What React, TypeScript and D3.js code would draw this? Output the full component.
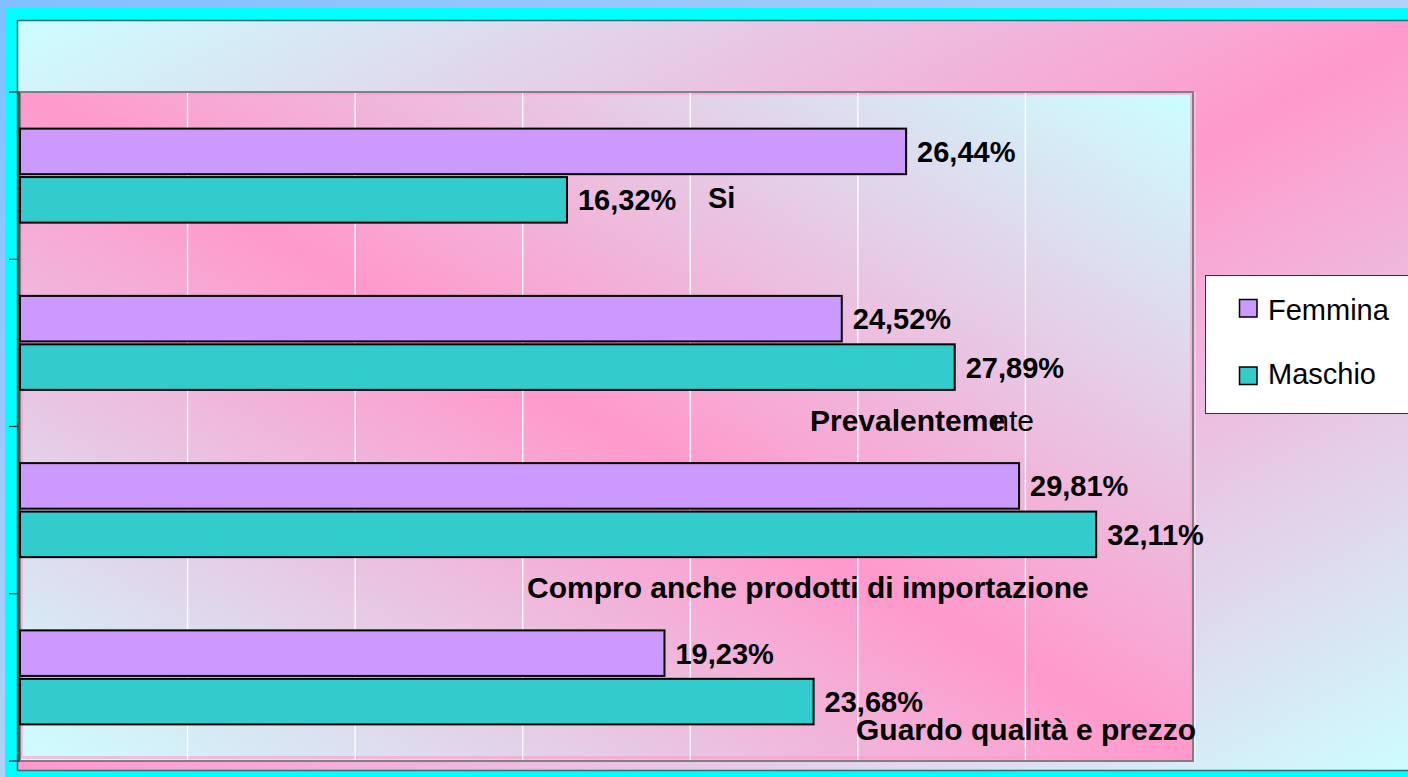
import React from "react";
import * as d3 from "d3";

const categories = ["Si", "Prevalentemente", "Compro anche prodotti di importazione", "Guardo qualità e prezzo"];
const seriesNames = ["Femmina", "Maschio"];
const femmina = [26.44, 24.52, 29.81, 19.23];
const maschio = [16.32, 27.89, 32.11, 23.68];
const xTicks = [0, 5, 10, 15, 20, 25, 30, 35];

const W = 1408;
const H = 777;
const PLOT = { left: 20, right: 1193, top: 92, bottom: 761 };
const FONT = "'Liberation Sans', Arial, sans-serif";
const COLORS: Record<string, string> = { Femmina: "#CC99FF", Maschio: "#33CCCC" };

const fmt = (v: number) => v.toFixed(2).replace(".", ",") + "%";

export default function App() {
  const x = d3.scaleLinear().domain([0, 35]).range([PLOT.left, PLOT.right]);
  const y = d3.scaleBand<string>().domain(categories).range([PLOT.top, PLOT.bottom]).padding(0);
  const values: Record<string, number[]> = { Femmina: femmina, Maschio: maschio };

  const boundaries = categories.map((c) => y(c) as number).concat([PLOT.bottom]);

  return (
    <svg width={W} height={H} style={{ position: "absolute", left: 0, top: 0, display: "block" }} fontFamily={FONT}>
      <defs>
        <linearGradient id="page" x1="0" y1="0" x2="1" y2="1">
          <stop offset="0" stopColor="#80C0FF" />
          <stop offset="1" stopColor="#E8E0F0" />
        </linearGradient>
        <linearGradient id="chartBg" x1="0" y1="0" x2="1" y2="1">
          <stop offset="0" stopColor="#CCFFFF" />
          <stop offset="0.5" stopColor="#FF99CC" />
          <stop offset="1" stopColor="#CCFFFF" />
        </linearGradient>
        <linearGradient id="plotBg" x1="1" y1="0" x2="0" y2="1">
          <stop offset="0" stopColor="#CCFFFF" />
          <stop offset="0.5" stopColor="#FF99CC" />
          <stop offset="1" stopColor="#CCFFFF" />
        </linearGradient>
      </defs>

      <rect x={0} y={0} width={W} height={H} fill="url(#page)" />
      <rect x={5} y={8} width={W} height={H} fill="#00FFFF" />
      <rect x={17.5} y={20.5} width={1420} height={750} fill="url(#chartBg)" stroke="#2F6F6F" strokeWidth={1.5} />

      {/* plot area */}
      <rect x={PLOT.left} y={PLOT.top} width={PLOT.right - PLOT.left} height={PLOT.bottom - PLOT.top} fill="url(#plotBg)" />
      <rect
        x={PLOT.left + 1.5}
        y={PLOT.top + 1.5}
        width={PLOT.right - PLOT.left - 3}
        height={PLOT.bottom - PLOT.top - 5}
        fill="none"
        stroke="#FF99CC"
        strokeOpacity={0.6}
        strokeWidth={3}
      />

      {/* gridlines */}
      {xTicks.slice(1, -1).map((t) => (
        <line key={t} x1={x(t)} x2={x(t)} y1={PLOT.top} y2={PLOT.bottom - 1} stroke="#FFFFFF" strokeOpacity={0.9} strokeWidth={1.5} />
      ))}

      <rect
        x={PLOT.left}
        y={PLOT.top}
        width={PLOT.right - PLOT.left}
        height={PLOT.bottom - PLOT.top}
        fill="none"
        stroke="#808080"
        strokeWidth={2}
      />
      <line x1={PLOT.right + 2} x2={PLOT.right + 2} y1={PLOT.top} y2={PLOT.bottom} stroke="#FFFFFF" strokeOpacity={0.6} strokeWidth={1} />

      {/* left axis */}
      <line x1={18.5} x2={18.5} y1={PLOT.top} y2={PLOT.bottom + 1} stroke="#555555" strokeWidth={3} />
      {boundaries.map((b, i) => (
        <line key={i} x1={9} x2={19} y1={b} y2={b} stroke="#333333" strokeWidth={1.2} />
      ))}

      {/* bars */}
      {categories.map((c, ci) => {
        const c0 = (y(c) as number) + y.bandwidth() / 2;
        const sub = d3.scaleBand<string>().domain(seriesNames).range([c0 - 47, c0 + 47]).paddingInner(0.06);
        return (
          <g key={c}>
            {seriesNames.map((s) => {
              const v = values[s][ci];
              const by = sub(s) as number;
              const bh = sub.bandwidth();
              return (
                <g key={s}>
                  <rect x={x(0)} y={by} width={x(v) - x(0)} height={bh} fill={COLORS[s]} stroke="#000000" strokeWidth={2} />
                  <text x={x(v) + 11} y={by + bh / 2 + 10.5} fontSize={29} fontWeight="bold" fill="#000">
                    {fmt(v)}
                  </text>
                </g>
              );
            })}
          </g>
        );
      })}

      {/* category labels (as placed in the original) */}
      <text x={708} y={208} fontSize={29} fontWeight="bold" fill="#000">
        {categories[0]}
      </text>
      <text x={810} y={431} fontSize={30} fontWeight="normal" fill="#000" textAnchor="end" dx={224}>
        nte
      </text>
      <text x={810} y={431} fontSize={30} fontWeight="bold" fill="#000">
        {categories[1].slice(0, 12)}
      </text>
      <text x={527} y={598} fontSize={30} fontWeight="bold" fill="#000">
        {categories[2]}
      </text>
      <text x={856} y={740} fontSize={30} fontWeight="bold" fill="#000">
        {categories[3]}
      </text>

      {/* legend */}
      <rect x={1205.5} y={275.5} width={260} height={138} fill="#FFFFFF" stroke="#333333" strokeWidth={1} />
      {seriesNames.map((s, i) => (
        <g key={s}>
          <rect x={1239.5} y={299.5 + i * 67.5} width={17.5} height={17.5} fill={COLORS[s]} stroke="#000" strokeWidth={1.5} />
          <text x={1268} y={320 + i * 64} fontSize={29} fill="#000">
            {s}
          </text>
        </g>
      ))}
    </svg>
  );
}
